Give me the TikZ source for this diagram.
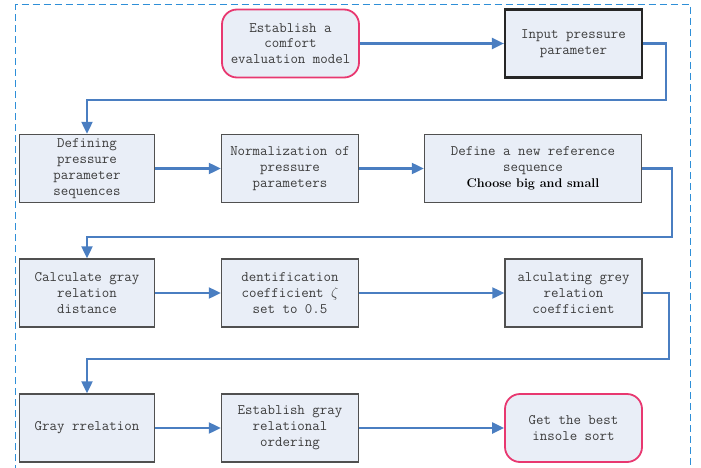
\documentclass[tikz,border=0pt]{standalone}
\usepackage{amsmath}
\usepackage{amssymb}
\usetikzlibrary{arrows.meta}
\usetikzlibrary{positioning}
\definecolor{mblue}{RGB}{74,126,193}
\definecolor{dblue}{RGB}{46,143,216}
\definecolor{mpink}{RGB}{232,56,112}
\definecolor{boxfill}{RGB}{233,238,247}
\definecolor{boxline}{RGB}{80,80,80}
\definecolor{textgray}{RGB}{60,60,60}
\tikzset{procbox/.style = {draw=boxline, fill=boxfill, line width=1.4pt,
                           minimum width=137pt, minimum height=68pt, inner sep=0pt,
                           align=center, text=textgray, font=\fontsize{14.5}{15.8}\ttfamily}}
\tikzset{endbox/.style = {procbox, draw=mpink, line width=1.8pt, rounded corners=15pt}}
\tikzset{flow/.style = {mblue, line width=2.2pt, -{Triangle[length=12pt, width=11pt]}}}

\begin{document}
\begin{tikzpicture}[x=1pt, y=1pt]
    \useasboundingbox (0, 0) rectangle (701, 467);
    \draw [dblue, line width=1pt, dash pattern=on 7pt off 4pt]
          (15.5, -5) |- (690.5, 462) -- (690.5, -5);

    % first row
    \node [endbox] (model) at (290.5, 423.5) {Establish a\\comfort\\evaluation model};
    \node [procbox, draw=black!85, line width=2.2pt] (input) at (573.5, 423.5) {Input pressure\\parameter};

    % second row
    \node [procbox, minimum width=135pt] (seq) at (87, 298.5) {Defining\\pressure\\parameter\\sequences};
    \node [procbox] (norm) at (290, 298.5) {Normalization of\\pressure\\parameters};
    \node [procbox, minimum width=217pt] (refseq) at (533, 298.5)
          {Define a new reference\\sequence\\{\fontsize{12.6}{14}\rmfamily\bfseries\color{black}Choose big and small}};

    % third row
    \node [procbox, minimum width=135pt] (dist) at (87, 174) {Calculate gray\\relation\\distance};
    \node [procbox] (coef) at (290, 174) {dentification\\coefficient $\zeta$\\set to 0.5};
    \node [procbox] (grc) at (573.5, 174) {alculating grey\\relation\\coefficient};

    % fourth row
    \node [procbox, minimum width=135pt] (gray) at (87, 39) {Gray rrelation};
    \node [procbox] (order) at (290, 39) {Establish gray\\relational\\ordering};
    \node [endbox] (best) at (573.5, 39) {Get the best\\insole sort};

    \coordinate (turn1) at (666, 367);
    \coordinate (turn2) at (672, 230);
    \coordinate (turn3) at (669, 108);

    \draw [flow] (model) -- (input);
    \draw [flow] (input.east) -| (turn1) -| (seq.north);
    \draw [flow] (seq) -- (norm);
    \draw [flow] (norm) -- (refseq);
    \draw [flow] (refseq.east) -| (turn2) -| (dist.north);
    \draw [flow] (dist) -- (coef);
    \draw [flow] (coef) -- (grc);
    \draw [flow] (grc.east) -| (turn3) -| (gray.north);
    \draw [flow] (gray) -- (order);
    \draw [flow] (order) -- (best);
\end{tikzpicture}
\end{document}
